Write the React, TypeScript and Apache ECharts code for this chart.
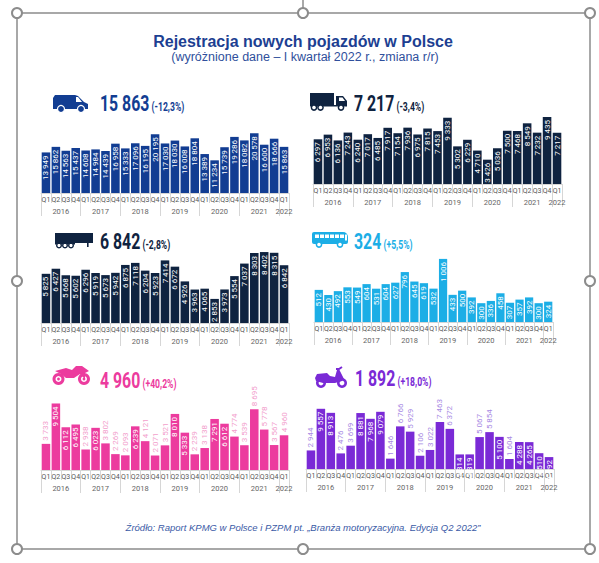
import React, { useEffect, useRef } from 'react';
import * as echarts from 'echarts';

const quarters = ['Q1', 'Q2', 'Q3', 'Q4'];
const years = ['2016', '2017', '2018', '2019', '2020', '2021', '2022'];

const vanValues = [13949, 15862, 14563, 15437, 14608, 14984, 14439, 16958, 15333, 17096, 16195, 20195, 17030, 18030, 16008, 18804, 13389, 11234, 15739, 19286, 18082, 20578, 16600, 18666, 15863];
const truckValues = [6297, 6953, 6136, 7243, 6240, 7017, 6485, 7917, 7154, 7936, 6975, 7815, 7453, 9333, 5302, 6229, 4710, 3426, 5036, 7500, 7468, 8549, 7232, 9435, 7217];
const semiValues = [5825, 6427, 5668, 5602, 6296, 5919, 5673, 5942, 6875, 7118, 6204, 5923, 7414, 6672, 4926, 3963, 4065, 2853, 3973, 5554, 7037, 8303, 8402, 8315, 6842];
const busValues = [512, 430, 492, 553, 549, 604, 531, 604, 627, 796, 645, 619, 532, 1006, 433, 500, 392, 300, 336, 458, 307, 357, 392, 300, 324];
const motoValues = [3733, 9504, 6112, 6495, 2938, 6023, 3802, 2269, 2093, 6239, 4121, 2071, 3521, 8010, 5333, 2239, 3138, 7291, 6612, 4774, 3539, 8695, 5778, 3567, 4960];
const mopedValues = [2944, 9557, 8913, 2476, 3699, 8881, 7968, 9079, 1646, 6766, 5929, 2106, 3022, 7463, 6372, 2314, 2319, 5067, 5854, 5100, 1604, 4288, 4265, 2510, 1892];

// indices of bars whose value label sits above the bar
const motoLabelAbove = [0, 4, 6, 7, 8, 10, 11, 12, 15, 16, 19, 20, 21, 22, 23, 24];
const mopedLabelAbove = [0, 3, 4, 8, 9, 10, 11, 12, 13, 14, 17, 18, 20];

const categories: string[] = [];
years.forEach((y, yi) => {
  quarters.forEach((q) => {
    if (yi < years.length - 1 || q === 'Q1') categories.push(q);
  });
});

// 51 half-slot positions for the year row (boundaryGap false)
const yearSlots: string[] = [];
for (let k = 0; k <= 50; k++) {
  let s = '';
  if (k % 8 === 4 && k < 48) s = years[(k - 4) / 8];
  if (k === 49) s = years[6];
  yearSlots.push(s);
}

const COND = "Roboto, 'Liberation Sans', sans-serif";
const SANS = "'Liberation Sans', Arial, 'Helvetica Neue', sans-serif";

const fmt = (v: number) => String(v).replace(/\B(?=(\d{3})+(?!\d))/g, ' ');
const pct = (vals: number[]) => {
  const last = vals[vals.length - 1];
  const prev = vals[vals.length - 5];
  const ch = (last / prev - 1) * 100;
  const s = ch >= 0 ? '+' : '-';
  return `(${s}${Math.abs(ch).toFixed(1).replace('.', ',')}%)`;
};

const panels = [
  { values: vanValues, color: '#123d92', grid: { left: 41, top: 129, width: 248, height: 64 }, max: 22000, num: [100, 103] },
  { values: truckValues, color: '#0f2340', grid: { left: 313, top: 113, width: 249, height: 71 }, max: 10000, num: [354, 103] },
  { values: semiValues, color: '#0f2340', grid: { left: 41, top: 247, width: 248, height: 76 }, max: 9000, num: [100, 241] },
  { values: busValues, color: '#1caee6', grid: { left: 314, top: 253, width: 239, height: 69 }, max: 1100, num: [354, 241] },
  { values: motoValues, color: '#ec3b9e', grid: { left: 41, top: 400, width: 248, height: 70 }, max: 10000, num: [100, 380], above: motoLabelAbove, aboveColor: '#f2a0cc' },
  { values: mopedValues, color: '#7a2ad6', grid: { left: 306, top: 406, width: 248, height: 63 }, max: 10000, num: [355, 378], above: mopedLabelAbove, aboveColor: '#a88ae4' },
];

function icons(): any[] {
  const van = '#123d92';
  const navy = '#0f2340';
  const bus = '#1caee6';
  const moto = '#ec3b9e';
  const moped = '#7a2ad6';
  return [
    {
      type: 'group', x: 53, y: 95, children: [
        { type: 'polygon', shape: { points: [[0, 3], [2, 0], [22, 0], [25, 1], [31, 7], [35, 9], [35, 14], [0, 14]] }, style: { fill: van } },
        { type: 'polygon', shape: { points: [[23, 2], [25, 2], [29, 7], [23, 7]] }, style: { fill: '#fff' } },
        { type: 'circle', shape: { cx: 8, cy: 14, r: 3.5 }, style: { fill: van, stroke: '#fff', lineWidth: 1.2 } },
        { type: 'circle', shape: { cx: 28, cy: 14, r: 3.5 }, style: { fill: van, stroke: '#fff', lineWidth: 1.2 } },
      ],
    },
    {
      type: 'group', x: 310, y: 93, children: [
        { type: 'rect', shape: { x: 0, y: 0, width: 24, height: 12 }, style: { fill: navy } },
        { type: 'polygon', shape: { points: [[26, 3], [33, 3], [37, 8], [37, 13], [26, 13]] }, style: { fill: navy } },
        { type: 'polygon', shape: { points: [[29, 4.5], [32.5, 4.5], [35, 8], [29, 8]] }, style: { fill: '#fff' } },
        { type: 'rect', shape: { x: 0, y: 12, width: 37, height: 1.5 }, style: { fill: navy } },
        { type: 'circle', shape: { cx: 4, cy: 14.5, r: 2.6 }, style: { fill: '#fff', stroke: navy, lineWidth: 1.5 } },
        { type: 'circle', shape: { cx: 10.5, cy: 14.5, r: 2.6 }, style: { fill: '#fff', stroke: navy, lineWidth: 1.5 } },
        { type: 'circle', shape: { cx: 31, cy: 14.5, r: 2.6 }, style: { fill: '#fff', stroke: navy, lineWidth: 1.5 } },
      ],
    },
    {
      type: 'group', x: 55, y: 233, children: [
        { type: 'rect', shape: { x: 0, y: 0, width: 38, height: 10 }, style: { fill: navy } },
        { type: 'rect', shape: { x: 32, y: 10, width: 1.6, height: 4 }, style: { fill: navy } },
        { type: 'rect', shape: { x: 0, y: 10, width: 20, height: 1.5 }, style: { fill: navy } },
        { type: 'circle', shape: { cx: 4, cy: 12.5, r: 2.3 }, style: { fill: '#fff', stroke: navy, lineWidth: 1.4 } },
        { type: 'circle', shape: { cx: 10, cy: 12.5, r: 2.3 }, style: { fill: '#fff', stroke: navy, lineWidth: 1.4 } },
        { type: 'circle', shape: { cx: 16, cy: 12.5, r: 2.3 }, style: { fill: '#fff', stroke: navy, lineWidth: 1.4 } },
      ],
    },
    {
      type: 'group', x: 312, y: 232, children: [
        { type: 'rect', shape: { x: 0, y: 0, width: 36, height: 12, r: [2, 5, 2, 2] }, style: { fill: bus } },
        ...[3, 8, 13, 18, 23, 28].map((wx) => ({ type: 'rect', shape: { x: wx, y: 2.5, width: 4, height: 3.5 }, style: { fill: '#fff' } })),
        { type: 'rect', shape: { x: 33, y: 2.5, width: 2, height: 6 }, style: { fill: '#fff' } },
        { type: 'circle', shape: { cx: 7, cy: 12.5, r: 2.6 }, style: { fill: '#fff', stroke: bus, lineWidth: 1.5 } },
        { type: 'circle', shape: { cx: 28, cy: 12.5, r: 2.6 }, style: { fill: '#fff', stroke: bus, lineWidth: 1.5 } },
      ],
    },
    {
      type: 'group', x: 52, y: 365, children: [
        { type: 'polygon', shape: { points: [[3, 6], [14, 3], [20, 5], [24, 1], [30, 1], [37, 6], [33, 8], [33, 14], [28, 9], [22, 13], [14, 13], [9, 9]] }, style: { fill: moto } },
        { type: 'ring', shape: { cx: 6.5, cy: 14, r: 6, r0: 3 }, style: { fill: moto } },
        { type: 'circle', shape: { cx: 6.5, cy: 14, r: 1.4 }, style: { fill: moto } },
        { type: 'ring', shape: { cx: 32, cy: 14, r: 6, r0: 3 }, style: { fill: moto } },
        { type: 'circle', shape: { cx: 32, cy: 14, r: 1.4 }, style: { fill: moto } },
      ],
    },
    {
      type: 'group', x: 315, y: 367, children: [
        { type: 'polygon', shape: { points: [[0, 11], [2, 7], [12, 6], [15, 9], [20, 10], [22, 3], [24.5, 3], [29, 12], [27, 14], [20, 16], [8, 16], [1, 14]] }, style: { fill: moped } },
        { type: 'polyline', shape: { points: [[21, 2], [24, 2], [27, 0]] }, style: { stroke: moped, lineWidth: 2, fill: 'none' } },
        { type: 'ring', shape: { cx: 6, cy: 16, r: 5, r0: 2.4 }, style: { fill: moped } },
        { type: 'ring', shape: { cx: 27, cy: 16, r: 5, r0: 2.4 }, style: { fill: moped } },
      ],
    },
  ];
}

function frame(): any[] {
  const c = '#8c8c8c';
  const L = 17, R = 590, T = 13, B = 549, M = 303, MY = 281;
  const handles = [[L, T], [M, T], [R, T], [L, MY], [R, MY], [L, B], [M, B], [R, B]];
  return [
    { type: 'line', shape: { x1: M, y1: 0, x2: M, y2: T }, style: { stroke: c, lineWidth: 1.5 } },
    { type: 'rect', shape: { x: L, y: T, width: R - L, height: B - T }, style: { fill: 'none', stroke: c, lineWidth: 1.5 } },
    ...handles.map(([x, y]) => ({ type: 'circle', shape: { cx: x, cy: y, r: 5 }, style: { fill: '#fff', stroke: c, lineWidth: 2 } })),
  ];
}

export default function App() {
  const ref = useRef<HTMLDivElement>(null);
  useEffect(() => {
    if (!ref.current) return;
    const chart = echarts.init(ref.current, undefined, { renderer: 'svg' });

    const grids: any[] = [];
    const xAxes: any[] = [];
    const yAxes: any[] = [];
    const series: any[] = [];
    const texts: any[] = [];

    panels.forEach((p, i) => {
      grids.push({ ...p.grid, containLabel: false });
      xAxes.push({
        type: 'category', gridIndex: i, data: categories,
        axisLine: { show: true, lineStyle: { color: '#d6d6d6', width: 1 } },
        axisTick: { show: true, alignWithLabel: false, interval: 0, length: 10, lineStyle: { color: '#d6d6d6' } },
        axisLabel: { interval: 0, fontSize: 7, color: '#555', margin: 3, fontFamily: COND },
      });
      xAxes.push({
        type: 'category', gridIndex: i, position: 'bottom', offset: 10, boundaryGap: false, data: yearSlots,
        axisLine: { show: false },
        axisTick: { show: true, length: 13, interval: (idx: number) => idx % 8 === 0 || idx === 50, lineStyle: { color: '#d6d6d6' } },
        axisLabel: { interval: (idx: number, val: string) => val !== '', fontSize: 7.5, color: '#666', margin: 4, fontFamily: COND },
      });
      yAxes.push({ type: 'value', gridIndex: i, min: 0, max: p.max, show: false });
      const aboveSet = new Set((p as any).above || []);
      series.push({
        type: 'bar', xAxisIndex: 2 * i, yAxisIndex: i,
        barCategoryGap: '14%',
        itemStyle: { color: p.color },
        label: {
          show: true, position: 'insideTop', rotate: 90, align: 'right', verticalAlign: 'middle', distance: 3,
          color: '#fff', fontSize: 8, fontFamily: COND,
          formatter: (d: any) => fmt(d.value),
        },
        data: p.values.map((v, j) =>
          aboveSet.has(j)
            ? { value: v, label: { position: 'top', align: 'left', color: (p as any).aboveColor } }
            : v
        ),
      });
      const last = p.values[p.values.length - 1];
      texts.push({
        type: 'text', x: p.num[0], y: p.num[1], scaleX: 0.72, scaleY: 1,
        style: {
          text: `{n|${fmt(last)}}{p|${pct(p.values)}}`,
          verticalAlign: 'middle',
          rich: {
            n: { fontSize: 22, fontWeight: 'bold', fontFamily: COND, fill: p.color, verticalAlign: 'bottom', lineHeight: 24 },
            p: { fontSize: 12, fontWeight: 'bold', fontFamily: COND, fill: p.color, verticalAlign: 'bottom', lineHeight: 24, padding: [0, 0, 2, 3] },
          },
        },
      });
    });

    const option: any = {
      animation: false,
      backgroundColor: '#fff',
      grid: grids,
      xAxis: xAxes,
      yAxis: yAxes,
      series,
      graphic: [
        ...frame(),
        { type: 'text', x: 303, y: 41, style: { text: 'Rejestracja nowych pojazdów w Polsce', fontSize: 16, fontWeight: 'bold', fontFamily: SANS, fill: '#1d3f92', align: 'center', verticalAlign: 'middle' } },
        { type: 'text', x: 305, y: 57, style: { text: '(wyróżnione dane – I kwartał 2022 r., zmiana r/r)', fontSize: 12.5, fontFamily: SANS, fill: '#2f4f9c', align: 'center', verticalAlign: 'middle' } },
        { type: 'text', x: 303, y: 527, style: { text: 'Źródło: Raport KPMG w Polsce i PZPM pt. „Branża motoryzacyjna. Edycja Q2 2022”', fontSize: 9.5, fontStyle: 'italic', fontFamily: SANS, fill: '#3a5aa6', align: 'center', verticalAlign: 'middle' } },
        ...icons(),
        ...texts,
      ],
    };
    chart.setOption(option);
    return () => chart.dispose();
  }, []);

  return <div ref={ref} style={{ position: 'absolute', left: 0, top: 0, width: 599, height: 563 }} />;
}
